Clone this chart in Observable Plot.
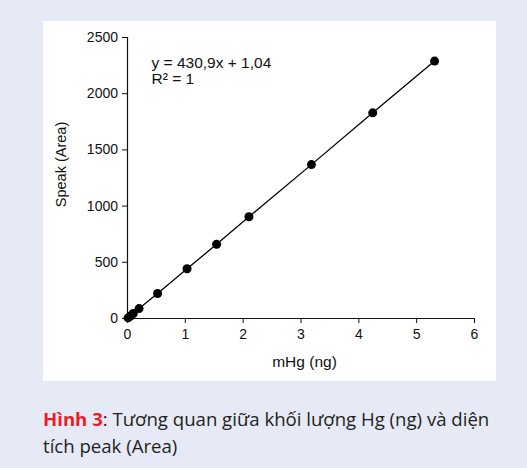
<!DOCTYPE html>
<html>
<head>
<meta charset="utf-8">
<script src="https://cdn.jsdelivr.net/npm/d3@7"></script>
<script src="https://cdn.jsdelivr.net/npm/@observablehq/plot@0.6"></script>
<style>
  html, body { margin: 0; padding: 0; }
  body { width: 527px; height: 468px; background: #e6eaf6; position: relative; overflow: hidden; }
  #panel { position: absolute; left: 43px; top: 21px; width: 453px; height: 360px; background: #ffffff; }
  #caption { position: absolute; left: 43px; top: 405px; width: 484px; font-family: "Open Sans", Lato, sans-serif; font-size: 18.6px; line-height: 27px; color: #231f20; white-space: nowrap; }
  #caption b { color: #ed1c24; font-weight: 700; }
</style>
</head>
<body>
<div id="panel"></div>
<div id="caption"><b>Hình 3</b>: Tương quan giữa khối lượng Hg (ng) và diện<br>tích peak (Area)</div>
<script>
const mHg = [0.01, 0.05, 0.1, 0.2, 0.52, 1.03, 1.54, 2.1, 3.18, 4.24, 5.31];
const speak = [5, 22, 44, 88, 222, 443, 660, 905, 1369, 1830, 2290];
const xTicks = [0, 1, 2, 3, 4, 5, 6];
const yTicks = [0, 500, 1000, 1500, 2000, 2500];
const equationText = "y = 430,9x + 1,04\nR² = 1";
const xLabel = "mHg (ng)";
const yLabel = "Speak (Area)";

const data = mHg.map((x, i) => ({x, y: speak[i]}));

const chart = Plot.plot({
  width: 453,
  height: 360,
  marginLeft: 84,
  marginTop: 16,
  marginBottom: 63,
  marginRight: 22,
  style: {fontFamily: "'Liberation Sans', Arial, sans-serif", background: "transparent", color: "#111"},
  x: {domain: [0, 6]},
  y: {domain: [0, 2500]},
  marks: [
    Plot.axisX(xTicks, {tickSize: 5, tickPadding: 6, fontSize: 14, tickFormat: d => String(d), label: null, stroke: "#111"}),
    Plot.axisY(yTicks, {tickSize: 5, tickPadding: 4.5, fontSize: 14, tickFormat: d => String(d), label: null, stroke: "#111"}),
    Plot.ruleY([0], {x1: 0, x2: 6, stroke: "#111", strokeWidth: 1.2}),
    Plot.ruleX([0], {y1: 0, y2: 2500, stroke: "#111", strokeWidth: 1.2}),
    Plot.line(data, {x: "x", y: "y", stroke: "#000", strokeWidth: 1.3}),
    Plot.dot(data, {x: "x", y: "y", r: 4.5, fill: "#000", stroke: "none"}),
    Plot.text([equationText], {frameAnchor: "top-left", text: d => d, textAnchor: "start", lineAnchor: "top", dx: 24, dy: 19, fontSize: 15.5, lineHeight: 1.03, fill: "#111"}),
    Plot.text([xLabel], {frameAnchor: "bottom", text: d => d, lineAnchor: "top", dx: 3.5, dy: 37, fontSize: 15.5, fill: "#111"}),
    Plot.text([yLabel], {frameAnchor: "left", text: d => d, textAnchor: "middle", rotate: -90, dx: -66, dy: -13.5, fontSize: 14.5, fill: "#111"})
  ]
});
document.getElementById("panel").appendChild(chart);
</script>
</body>
</html>
